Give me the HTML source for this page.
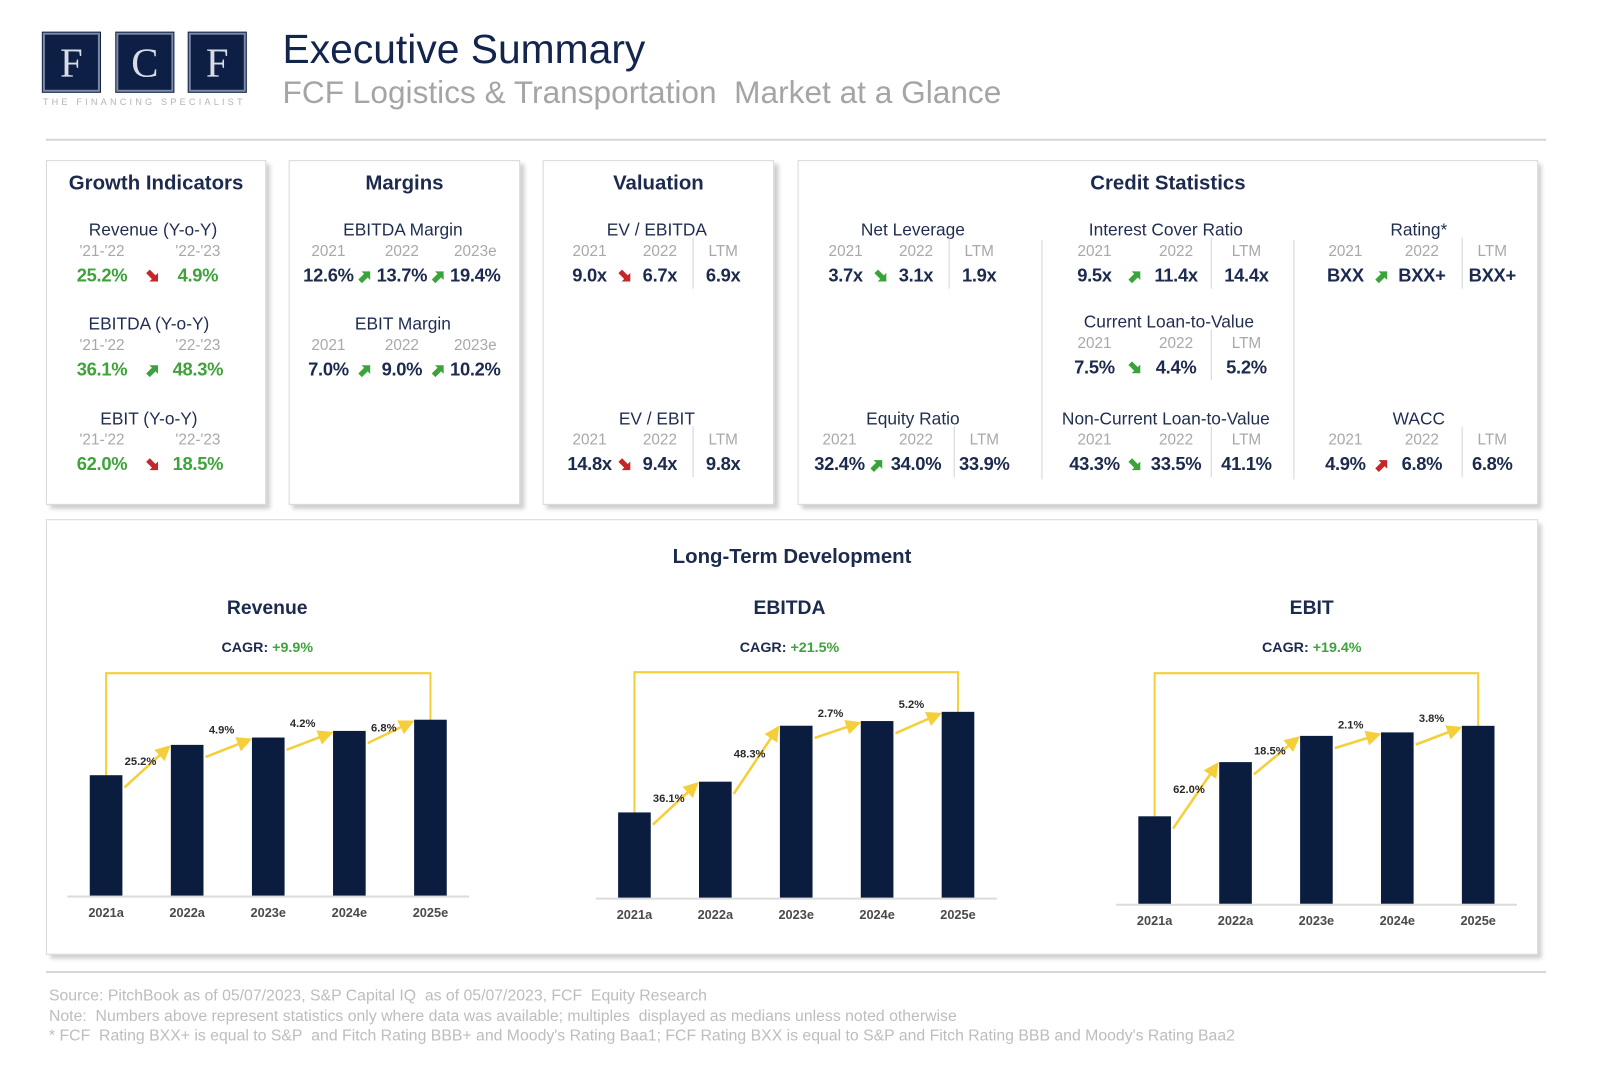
<!DOCTYPE html>
<html><head><meta charset="utf-8">
<style>
html,body{margin:0;padding:0;background:#fff;width:1600px;height:1081px;overflow:hidden}
#root{position:absolute;left:0;top:0;width:1561px;height:1054px;transform:scale(1.02);transform-origin:0 0;font-family:"Liberation Sans",Arial,sans-serif;color:#1c2a4e}
.abs{position:absolute}
.panel{position:absolute;background:#fff;border:1px solid #d8d8d8;box-shadow:4px 4px 4px #cfcfcf}
.ptitle{position:absolute;left:0;right:0;text-align:center;font-weight:bold;font-size:20px;color:#1c2a4e}
.t{position:absolute;white-space:nowrap;transform:translateX(-50%)}
.lbl{font-size:17px;color:#1f2d50}
.yr{font-size:15px;color:#a8a8a8}
.val{font-size:18px;color:#1c2a4e;font-weight:bold;letter-spacing:-0.3px}
.g{color:#3ea33a}
.logo{position:absolute;top:32px;width:56px;height:58px;background:#0d1f45;border:2px solid #7d8aa6;box-sizing:border-box;outline:1px solid #0d1f45;color:#d8dce6;font-family:"Liberation Serif",serif;font-size:40px;text-align:center;line-height:55px}
.sep{position:absolute;width:1px;background:#d4d4d4}
</style></head>
<body>
<div id="root">
  <div class="logo" style="left:42px">F</div>
  <div class="logo" style="left:114px">C</div>
  <div class="logo" style="left:185px">F</div>
  <div class="abs" style="left:42px;top:95px;font-size:9px;letter-spacing:3.1px;color:#b5b5b5">THE FINANCING SPECIALIST</div>
  <div class="abs" style="left:277px;top:27px;font-size:40px;color:#13244d">Executive Summary</div>
  <div class="abs" style="left:277px;top:73px;font-size:31px;color:#a5a5a5">FCF Logistics &amp; Transportation&nbsp; Market at a Glance</div>
  <div class="abs" style="left:45px;top:136px;width:1471px;height:2px;background:#d6d6d6"></div>

  <div class="panel" style="left:45px;top:157px;width:214px;height:336px"><div class="ptitle" style="top:11px">Growth Indicators</div></div>
  <div class="panel" style="left:283px;top:157px;width:225px;height:336px"><div class="ptitle" style="top:11px">Margins</div></div>
  <div class="panel" style="left:532px;top:157px;width:225px;height:336px"><div class="ptitle" style="top:11px">Valuation</div></div>
  <div class="panel" style="left:782px;top:157px;width:724px;height:336px"><div class="ptitle" style="top:11px">Credit Statistics</div></div>
  <div class="sep" style="left:1021px;top:235px;height:235px"></div>
  <div class="sep" style="left:1268px;top:235px;height:235px"></div>

  <div class="panel" style="left:45px;top:509px;width:1461px;height:425px"><div class="ptitle" style="top:25px">Long-Term Development</div></div>

  <svg id="charts" class="abs" style="left:0;top:0" width="1561" height="1054"></svg>

  <div class="abs" style="left:45px;top:952px;width:1471px;height:2px;background:#d6d6d6"></div>
  <div class="abs" style="left:48px;top:967px;font-size:15.5px;color:#bdbdbd;line-height:19.5px">
    <div>Source: PitchBook as of 05/07/2023, S&amp;P Capital IQ&nbsp; as of 05/07/2023, FCF&nbsp; Equity Research</div>
    <div>Note:&nbsp; Numbers above represent statistics only where data was available; multiples&nbsp; displayed as medians unless noted otherwise</div>
    <div>* FCF&nbsp; Rating BXX+ is equal to S&amp;P&nbsp; and Fitch Rating BBB+ and Moody's Rating Baa1; FCF Rating BXX is equal to S&amp;P and Fitch Rating BBB and Moody's Rating Baa2</div>
  </div>
</div>
<script>
const root=document.getElementById('root');
function txt(cls,x,y,s,name){const d=document.createElement('div');d.className='t '+cls;d.style.left=x+'px';d.style.top=y+'px';d.textContent=s;


root.appendChild(d);return d;}
function arrow(x,y,dir,color,name){const ns='http://www.w3.org/2000/svg';const s=document.createElementNS(ns,'svg');s.setAttribute('width','16');s.setAttribute('height','16');s.style.position='absolute';s.style.left=(x-8)+'px';s.style.top=(y-8)+'px';
const rot=dir==='up'?-45:45;
s.innerHTML='<g transform="rotate('+rot+' 8 8)"><path d="M1 5.5 H9 V2 L15 8 L9 14 V10.5 H1 Z" fill="'+color+'"/></g>';


root.appendChild(s);}
function sep(x,y,name){const d=document.createElement('div');d.className='sep';d.style.left=x+'px';d.style.top=y+'px';d.style.height='50px';


root.appendChild(d);}
const GREEN='#3aa33a',RED='#c4262b';
function metric(o){
  txt('lbl',o.c,o.y,o.label,o.name+'-label');
  o.xs.forEach((x,i)=>{txt('yr',x,o.y+22,o.years[i],o.name+'-year-'+i);
    txt('val'+(o.green?' g':''),x,o.y+44,o.vals[i],o.name+'-value-'+i);});
  o.arrows.forEach((a,i)=>arrow(a[0],o.y+55,a[1],a[2],o.name+'-trend-'+i));
  if(o.sep) sep(o.sep,o.y+17,o.name+'-ltm-divider');
}
const gy=["'21-'22","'22-'23"];
metric({name:'revenue-yoy',label:'Revenue (Y-o-Y)',c:150,y:216,xs:[100,194],years:gy,vals:['25.2%','4.9%'],green:1,arrows:[[150,'down',RED]]});
metric({name:'ebitda-yoy',label:'EBITDA  (Y-o-Y)',c:146,y:308,xs:[100,194],years:gy,vals:['36.1%','48.3%'],green:1,arrows:[[150,'up',GREEN]]});
metric({name:'ebit-yoy',label:'EBIT  (Y-o-Y)',c:146,y:401,xs:[100,194],years:gy,vals:['62.0%','18.5%'],green:1,arrows:[[150,'down',RED]]});
const my=['2021','2022','2023e'];
metric({name:'ebitda-margin',label:'EBITDA  Margin',c:395,y:216,xs:[322,394,466],years:my,vals:['12.6%','13.7%','19.4%'],arrows:[[358,'up',GREEN],[430,'up',GREEN]]});
metric({name:'ebit-margin',label:'EBIT  Margin',c:395,y:308,xs:[322,394,466],years:my,vals:['7.0%','9.0%','10.2%'],arrows:[[358,'up',GREEN],[430,'up',GREEN]]});
const ly=['2021','2022','LTM'];
metric({name:'ev-ebitda',label:'EV / EBITDA',c:644,y:216,xs:[578,647,709],years:ly,vals:['9.0x','6.7x','6.9x'],arrows:[[613,'down',RED]],sep:679});
metric({name:'ev-ebit',label:'EV / EBIT',c:644,y:401,xs:[578,647,709],years:ly,vals:['14.8x','9.4x','9.8x'],arrows:[[613,'down',RED]],sep:679});
metric({name:'net-leverage',label:'Net Leverage',c:895,y:216,xs:[829,898,960],years:ly,vals:['3.7x','3.1x','1.9x'],arrows:[[864,'down',GREEN]],sep:930});
metric({name:'equity-ratio',label:'Equity  Ratio',c:895,y:401,xs:[823,898,965],years:ly,vals:['32.4%','34.0%','33.9%'],arrows:[[860,'up',GREEN]],sep:935});
metric({name:'interest-cover',label:'Interest Cover Ratio',c:1143,y:216,xs:[1073,1153,1222],years:ly,vals:['9.5x','11.4x','14.4x'],arrows:[[1113,'up',GREEN]],sep:1187});
metric({name:'current-ltv',label:'Current Loan-to-Value',c:1146,y:306,xs:[1073,1153,1222],years:ly,vals:['7.5%','4.4%','5.2%'],arrows:[[1113,'down',GREEN]],sep:1187});
metric({name:'noncurrent-ltv',label:'Non-Current  Loan-to-Value',c:1143,y:401,xs:[1073,1153,1222],years:ly,vals:['43.3%','33.5%','41.1%'],arrows:[[1113,'down',GREEN]],sep:1187});
metric({name:'rating',label:'Rating*',c:1391,y:216,xs:[1319,1394,1463],years:ly,vals:['BXX','BXX+','BXX+'],arrows:[[1355,'up',GREEN]],sep:1433});
metric({name:'wacc',label:'WACC',c:1391,y:401,xs:[1319,1394,1463],years:ly,vals:['4.9%','6.8%','6.8%'],arrows:[[1355,'up',RED]],sep:1433});
</script>
<script>
// Long-term development chart data (indexed to 2021a = 100)
const categories=['2021a','2022a','2023e','2024e','2025e'];
const revenueValues=[100,125.2,131.3,136.8,146.1];
const ebitdaValues=[100,136.1,201.8,207.3,218.1];
const ebitValues=[100,162.0,192.0,196.0,203.5];
const revenueGrowth=['25.2%','4.9%','4.2%','6.8%'];
const ebitdaGrowth=['36.1%','48.3%','2.7%','5.2%'];
const ebitGrowth=['62.0%','18.5%','2.1%','3.8%'];
const chartTitles=['Revenue','EBITDA','EBIT'];
const cagrLabels=['+9.9%','+21.5%','+19.4%'];

const NS='http://www.w3.org/2000/svg';
const svg=document.getElementById('charts');
function el(tag,attrs,parent){const e=document.createElementNS(NS,tag);for(const k in attrs)e.setAttribute(k,attrs[k]);(parent||svg).appendChild(e);return e;}
const defs=el('defs',{});
const mk=el('marker',{id:'ah',markerWidth:'6',markerHeight:'6',refX:'5',refY:'3',orient:'auto',markerUnits:'strokeWidth'},defs);
el('path',{d:'M0,0 L6,3 L0,6 Z',fill:'#f5cf3a'},mk);

const layouts=[{x0:104,dx:79.5,base:878,ppu:1.18,title:262,bracket:660},
               {x0:622,dx:79.3,base:880,ppu:0.835,title:774,bracket:659},
               {x0:1132,dx:79.3,base:886,ppu:0.857,title:1286,bracket:660}];
const series=[revenueValues,ebitdaValues,ebitValues];
const growths=[revenueGrowth,ebitdaGrowth,ebitGrowth];
const prefixes=['revenue','ebitda','ebit'];
const BW=32;
layouts.forEach((L,ci)=>{
  const vals=series[ci],pre=prefixes[ci];
  const xS=i=>L.x0+i*L.dx;
  const yS=v=>L.base-v*L.ppu;
  const g=el('g',{});
  
  
  const t=el('text',{x:L.title,y:602,'text-anchor':'middle','font-size':'19','font-weight':'bold',fill:'#1c2a4e'},g);
  t.textContent=chartTitles[ci];
  
  
  const c=el('text',{x:L.title,y:639,'text-anchor':'middle','font-size':'14','font-weight':'bold',fill:'#1c2a4e'},g);
  c.innerHTML='CAGR: <tspan fill="#3ea33a">'+cagrLabels[ci]+'</tspan>';
  
  
  const ax=el('line',{x1:xS(0)-38,x2:xS(4)+38,y1:L.base+1,y2:L.base+1,stroke:'#dcdcdc','stroke-width':'2'},g);
  
  
  const last=vals.length-1;
  const br=el('polyline',{points:`${xS(0)},${yS(vals[0])} ${xS(0)},${L.bracket} ${xS(last)},${L.bracket} ${xS(last)},${yS(vals[last])}`,fill:'none',stroke:'#f5cf3a','stroke-width':'2'},g);
  
  
  vals.forEach((v,i)=>{
    const r=el('rect',{x:xS(i)-BW/2,y:yS(v),width:BW,height:L.base-yS(v),fill:'#0b1d3f'},g);
    
    
    const lb=el('text',{x:xS(i),y:L.base+21,'text-anchor':'middle','font-size':'12.5','font-weight':'bold',fill:'#4a4a4a'},g);
    lb.textContent=categories[i];
    
    
  });
  growths[ci].forEach((gv,i)=>{
    const x1=xS(i)+BW/2+2,y1=yS(vals[i])+12,x2=xS(i+1)-BW/2-2,y2=yS(vals[i+1])+2;
    const a=el('line',{x1,y1,x2,y2,stroke:'#f5cf3a','stroke-width':'2.5','marker-end':'url(#ah)'},g);
    
    
    const gt=el('text',{x:(x1+x2)/2-6,y:Math.min(y1,y2)+((y1-y2)>20?(y1-y2)*0.45:-6),'text-anchor':'middle','font-size':'11','font-weight':'bold',fill:'#2a2a2a'},g);
    gt.textContent=gv;
    
    
  });
});
</script>
</body></html>
